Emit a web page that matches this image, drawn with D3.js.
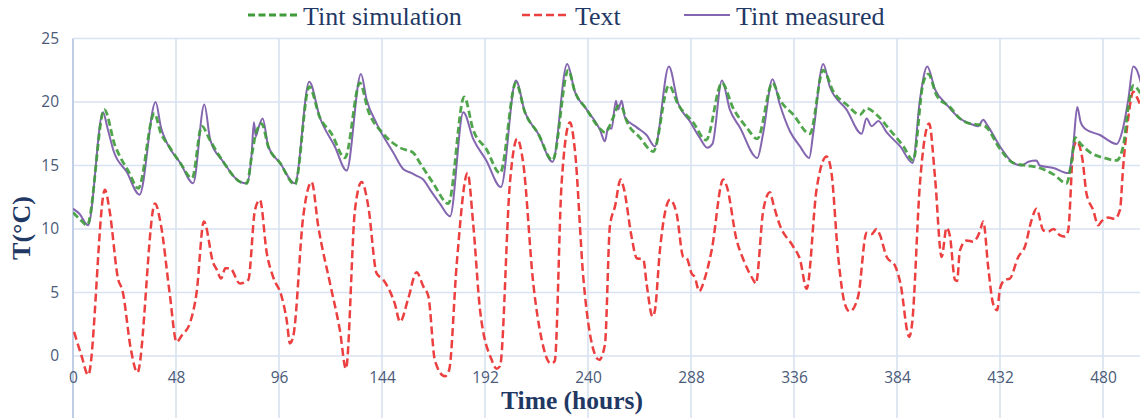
<!DOCTYPE html>
<html>
<head>
<meta charset="utf-8">
<script src="https://cdn.jsdelivr.net/npm/d3@7"></script>
<style>
  html, body { margin: 0; padding: 0; background: #ffffff; }
  svg { display: block; }
</style>
</head>
<body>
<svg id="chart" width="1140" height="418"></svg>
<script>
// Indoor temperature (simulated and measured) and outdoor temperature over ~500 hours
const seriesNames = ["Tint simulation", "Text", "Tint measured"];
const xTickValues = [0, 48, 96, 144, 192, 240, 288, 336, 384, 432, 480];
const yTickValues = [0, 5, 10, 15, 20, 25];

// [hour, °C]
const tintSimulation = [
  [0,11.3],[3,10.8],[6.6,10.3],[14.6,19.4],[19.5,16.6],[21.9,15.7],[26,14.5],[30.4,13.2],[37.9,19.1],
  [41,17.5],[44,16.7],[50,15.2],[55.5,14.0],[60,18.1],[63.8,17.0],[70,15.3],[78,13.7],[81,13.6],
  [83.5,16.0],[85.2,17.5],[87.9,18.3],[91,16.5],[96.5,15.2],[103.4,13.5],[110.1,21.2],[115,18.8],
  [120.5,17.5],[126.7,15.6],[133.7,21.5],[137.6,19.3],[144.6,17.5],[152.4,16.4],[158.6,16.0],
  [161.7,15.2],[167.9,13.6],[174.9,12.0],[182.3,20.4],[186.5,17.8],[192.6,16.3],[199,14.4],
  [206.4,21.5],[210.6,19.2],[216.8,17.5],[223.5,15.4],[230.8,22.5],[233.9,20.8],[239,19.5],
  [245.6,17.9],[247.9,17.6],[251.8,18.8],[254,19.7],[255.7,19.6],[258,18.5],[264.2,17.2],
  [270.4,16.1],[277.7,21.3],[282,19.8],[289,18.4],[295,17.0],[302.4,21.5],[307.7,19.5],
  [313.9,18.0],[318.9,17.1],[326,21.5],[329.4,20.2],[335.7,19.0],[343.4,17.5],[349.6,22.5],
  [354.4,20.8],[360.5,19.8],[366.7,19.0],[369.8,19.5],[374.5,19.0],[380.7,17.8],[387,16.5],
  [391.5,15.4],[396.2,21.5],[398.6,22.2],[402.5,20.5],[408.7,19.6],[413.3,18.7],[418,18.3],
  [422.6,18.2],[425,18.1],[432,16.3],[438.2,15.2],[444.4,15.0],[450.6,14.8],[456.9,14.3],
  [463,13.6],[465.5,15.5],[467,17.2],[469.6,16.7],[474.3,16.0],[480.5,15.6],[486.3,15.4],
  [489.4,16.5],[491.8,19.6],[494.1,21.3],[498,20.5]
];

const textOutdoor = [
  [0.5,1.9],[4,0],[7.1,-1.5],[14.9,13.1],[17,11.5],[21.1,6.0],[23,5.2],[27,0.5],[30,-1.3],
  [38.2,12.0],[41,10.3],[45,5],[48.3,1.1],[50.6,1.6],[54.5,2.6],[57.6,5.0],[61,10.6],[65.4,7.3],
  [67,6.8],[69,6.1],[71,6.9],[73.2,6.9],[77.8,5.7],[81.7,6.0],[84.8,11.5],[87.1,12.3],[90.3,8.1],
  [93.3,6.2],[97.2,4.7],[99.6,2.8],[101.1,1.0],[102.7,1.6],[107.3,11],[111.2,13.7],[114.3,10.2],
  [119.8,5.7],[124.4,2.0],[127.2,-1.0],[131.4,11.5],[134.5,13.7],[137.6,11.8],[141.5,6.5],
  [144.6,6.0],[150,4.1],[152.4,2.7],[156.2,4.5],[160.1,6.6],[163.2,5.5],[165.6,4.7],[168.7,-0.4],
  [173.3,-1.6],[175.3,-1.1],[178.8,7.2],[183.9,14.4],[186.5,10.4],[189.7,3.6],[195.1,-0.3],
  [197.4,-1.0],[199,-0.8],[203.6,13.6],[207,17.1],[209.8,15.2],[214.5,5.7],[218.4,1.3],
  [222.7,-0.6],[224.5,-0.4],[227.7,13.6],[231.6,18.4],[233.9,16.2],[237.8,6.2],[242.5,0.5],
  [245.2,-0.3],[247.9,0.9],[250.2,10.2],[252.6,11.8],[255.2,13.9],[256.7,13.2],[260.3,9.4],
  [262.7,7.7],[265.8,7.6],[267.3,5.7],[270.1,3.1],[271.2,3.6],[273.5,8.3],[278.2,12.3],
  [281.3,11.2],[284.4,7.8],[286,7.7],[288.3,6.5],[289.8,6.2],[291.8,5.1],[294.4,6.1],[297.6,8.3],
  [303,13.9],[304.6,13.4],[309.3,9.1],[312.4,7.6],[317,6.0],[318.2,5.7],[321.7,11.5],[324.8,12.9],
  [326.3,12.0],[329.4,10.3],[335.7,8.6],[338.8,7.6],[341.9,5.3],[346.5,13.1],[351.2,15.7],
  [353.4,14.5],[356.6,7.8],[359.7,4.1],[362,3.5],[365.9,4.7],[369.8,9.7],[372.2,9.6],[374.5,10.0],
  [376.1,9.5],[379.2,7.8],[383.1,7.1],[385.5,5.8],[389.7,1.5],[391,2.5],[394.7,13.6],[399,18.3],
  [401.7,14.1],[404.8,7.8],[407.1,10.1],[408.7,9.4],[411,6.0],[412,5.9],[413.3,8.3],[416.4,9.1],
  [419.5,9.0],[422.6,9.8],[424.2,10.6],[426.5,7.0],[428.8,4.1],[430.7,3.6],[432,5.3],[434.3,6.0],
  [436.6,6.1],[440.5,7.8],[443.6,8.6],[446.7,10.7],[449,11.6],[452.2,9.9],[454.5,9.8],[456.9,10.0],
  [460,9.5],[462.3,9.4],[463.8,9.9],[466.1,16.2],[467.7,16.9],[470.5,15.4],[472.3,12.8],
  [475.4,11.5],[477.8,10.3],[479.3,10.6],[482.4,10.9],[485.5,10.8],[487.9,11.5],[489.4,14.9],
  [491.8,18.8],[494.1,20.8],[496,20.3],[498,19.5]
];

const tintMeasured = [
  [0,11.6],[3,11.2],[7,10.3],[14,19.2],[16,18.0],[19,16.1],[25,14.5],[31,12.7],[38.5,20.0],[41,18],
  [44,16.7],[50,15.2],[56,13.6],[61.2,19.8],[64,17],[70,15.3],[78,13.7],[81,13.6],[83.3,16.0],
  [84.3,18.4],[85.2,17.3],[86.5,18.0],[88.4,18.7],[91,16.5],[96.5,15.2],[103.4,13.6],[110.1,21.6],
  [115,18.8],[122,16.5],[127.5,14.6],[134.2,22.2],[136.8,20.2],[141.5,18.3],[149.3,16.0],[154,14.7],
  [157.8,14.4],[160,14.2],[163.2,13.9],[166.4,13.1],[171,12.0],[175.7,11.0],[181.9,19.2],
  [186.5,17.1],[192.6,15.4],[199.4,13.3],[206.4,21.7],[210.6,19.2],[216.8,17.5],[223.5,15.3],
  [230.3,23.0],[233.9,20.8],[239,19.5],[245.6,17.8],[247.9,16.9],[249.4,18.0],[251,17.9],
  [253,20.1],[254,19.4],[255.7,20.1],[257.2,18.8],[262.7,18.0],[267.3,17.4],[271.2,16.5],
  [277.7,22.8],[282,19.9],[287.4,18.5],[292,17.2],[295.6,16.4],[298,16.7],[302.4,21.7],[306.1,19.4],
  [310.8,18.0],[318.9,15.6],[321.7,17.6],[326,21.8],[329.4,19.8],[334.1,17.7],[338.8,16.5],
  [343.1,15.6],[345,17.6],[349.6,23.0],[352.7,21.2],[360.5,19.4],[367.5,17.5],[369.8,18.7],
  [372.2,18.1],[375.3,18.5],[379.2,17.6],[385.5,16.5],[391.3,15.2],[394.7,20.2],[398.1,22.8],
  [401.7,21.0],[407.1,19.8],[413.3,18.7],[418,18.3],[421.8,18.1],[424.2,18.6],[426,18.2],
  [432,16.5],[438.2,15.2],[442.1,15.0],[445.2,15.3],[449,15.4],[450.5,15.0],[456.9,14.8],
  [463.8,14.4],[466.1,16.5],[468,19.6],[469.6,18.4],[471.6,17.9],[478.6,17.4],[486.3,16.7],
  [489.4,18.0],[491.8,20.2],[494.1,22.8],[495.5,22.6],[498,21.3]
];

const colors = { sim: "#3e9c3a", ext: "#ec3f3f", meas: "#8466b0" };

const svg = d3.select("#chart");
const W = 1140, H = 418;
const plotLeft = 73, plotTop = 38.5;

const x = d3.scaleLinear().domain([0, 504]).range([plotLeft, plotLeft + 504 * (1030 / 480)]);
const y = d3.scaleLinear().domain([-5, 25]).range([419.5, plotTop]);

// Grid
const grid = svg.append("g");
grid.selectAll("line.h").data(yTickValues).join("line")
  .attr("x1", plotLeft).attr("x2", W)
  .attr("y1", d => y(d)).attr("y2", d => y(d))
  .attr("stroke", "#d8e2f1").attr("stroke-width", 1.6);
grid.selectAll("line.v").data(xTickValues.slice(1)).join("line")
  .attr("x1", d => x(d)).attr("x2", d => x(d))
  .attr("y1", plotTop).attr("y2", H)
  .attr("stroke", "#d8e2f1").attr("stroke-width", 1.6);
// vertical axis line
svg.append("line")
  .attr("x1", plotLeft).attr("x2", plotLeft).attr("y1", plotTop).attr("y2", H)
  .attr("stroke", "#b9c9e2").attr("stroke-width", 1.8);

// Axes labels
const tickFont = "Open Sans, Liberation Sans, sans-serif";
const yAxis = svg.append("g").attr("transform", `translate(${plotLeft},0)`)
  .call(d3.axisLeft(y).tickValues(yTickValues).tickSize(0).tickPadding(14).tickFormat(d3.format("d")));
yAxis.select(".domain").remove();
yAxis.selectAll("text").attr("font-family", tickFont).attr("font-size", 15.5).attr("fill", "#4a5a78");

const xAxis = svg.append("g").attr("transform", `translate(0,${y(0)})`)
  .call(d3.axisBottom(x).tickValues(xTickValues).tickSize(0).tickPadding(16).tickFormat(d3.format("d")));
xAxis.select(".domain").remove();
xAxis.selectAll("text").attr("font-family", tickFont).attr("font-size", 15.5).attr("fill", "#4a5a78");

// Clip to the plot area
svg.append("clipPath").attr("id", "plotClip")
  .append("rect").attr("x", plotLeft).attr("y", 0).attr("width", W - plotLeft).attr("height", H);

const line = d3.line().x(d => x(d[0])).y(d => y(d[1])).curve(d3.curveMonotoneX);
const plot = svg.append("g").attr("clip-path", "url(#plotClip)");

plot.append("path").datum(textOutdoor)
  .attr("d", line).attr("fill", "none")
  .attr("stroke", colors.ext).attr("stroke-width", 2.5)
  .attr("stroke-dasharray", "8,4").attr("stroke-linejoin", "round");

plot.append("path").datum(tintMeasured)
  .attr("d", line).attr("fill", "none")
  .attr("stroke", colors.meas).attr("stroke-width", 2)
  .attr("stroke-linejoin", "round");

plot.append("path").datum(tintSimulation)
  .attr("d", line).attr("fill", "none")
  .attr("stroke", colors.sim).attr("stroke-width", 2.8)
  .attr("stroke-dasharray", "7,3.5").attr("stroke-opacity", 0.9);

// Axis titles
svg.append("text")
  .attr("x", 572).attr("y", 409)
  .attr("text-anchor", "middle")
  .attr("font-family", "Liberation Serif, Times New Roman, serif")
  .attr("font-weight", "bold").attr("font-size", 25.5)
  .attr("fill", "#1f3864")
  .text("Time (hours)");

svg.append("text")
  .attr("transform", "translate(30,228) rotate(-90)")
  .attr("text-anchor", "middle")
  .attr("font-family", "Liberation Serif, Times New Roman, serif")
  .attr("font-weight", "bold").attr("font-size", 26)
  .attr("fill", "#1f3864")
  .text("T(°C)");

// Legend
const legendItems = [
  { name: seriesNames[0], color: colors.sim, dash: "7,3.5", w: 2.8, x0: 248, x1: 298, tx: 303 },
  { name: seriesNames[1], color: colors.ext, dash: "8,4", w: 2.5, x0: 522, x1: 566, tx: 575 },
  { name: seriesNames[2], color: colors.meas, dash: null, w: 2, x0: 684, x1: 730, tx: 736 }
];
const legend = svg.append("g");
const li = legend.selectAll("g").data(legendItems).join("g");
li.append("line")
  .attr("x1", d => d.x0).attr("x2", d => d.x1)
  .attr("y1", 15).attr("y2", 15)
  .attr("stroke", d => d.color).attr("stroke-width", d => d.w)
  .attr("stroke-dasharray", d => d.dash);
li.append("text")
  .attr("x", d => d.tx).attr("y", 24.5)
  .attr("font-family", "Liberation Serif, Times New Roman, serif")
  .attr("font-size", 26).attr("fill", "#1f3864")
  .text(d => d.name);
</script>
</body>
</html>
